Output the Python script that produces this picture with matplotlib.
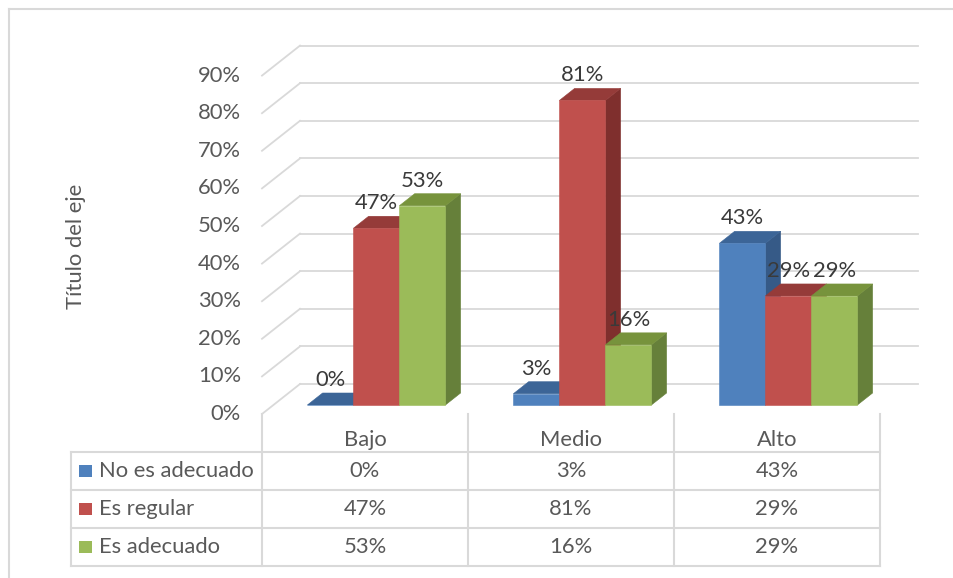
import matplotlib
matplotlib.use("Agg")
import matplotlib.pyplot as plt
from matplotlib.patches import Polygon, Rectangle
from matplotlib.lines import Line2D

# ---------------------------------------------------------------------------
# DATA
# ---------------------------------------------------------------------------
categories = ["Bajo", "Medio", "Alto"]
series_names = ["No es adecuado", "Es regular", "Es adecuado"]
no_es_adecuado = [0.00, 0.03, 0.43]
es_regular = [0.47, 0.81, 0.29]
es_adecuado = [0.53, 0.16, 0.29]
series_values = [no_es_adecuado, es_regular, es_adecuado]
y_ticks = [0.0, 0.1, 0.2, 0.3, 0.4, 0.5, 0.6, 0.7, 0.8, 0.9]
y_title = "Título del eje"

# colours: front / top / side of each 3D column
front_colors = ["#4F81BD", "#C0504D", "#9BBB59"]
top_colors = ["#3C6597", "#953B39", "#77933C"]
side_colors = ["#365A87", "#7F2F2D", "#66803A"]
GRID = "#D9D9D9"
TEXT = "#595959"
LABEL = "#3A3A3A"

plt.rcParams["font.family"] = ["Lato", "DejaVu Sans"]
FS = 15.8

# ---------------------------------------------------------------------------
# Layout: axes fill the figure; x in category units, y in value units
# (front plane of the walls), depth shifts things up and to the right.
# ---------------------------------------------------------------------------
W, H = 954, 578
PX_CAT = 206.0      # pixels per category
PX_UNIT = 376.0     # pixels per 100 %
X0, Y0 = 365.0, 414.0  # pixel position of (category 0, 0 %) on front plane
DEPTH_X = 38.0 / PX_CAT
DEPTH_Y = 30.0 / PX_UNIT
BAR_W = 46.0 / PX_CAT
D_FRONT, D_BACK = 0.30, 0.70
ROW_H = 38.0 / PX_UNIT
TABLE_LEFT = (71.0 - X0) / PX_CAT


def proj(x, v, d):
    return (x + d * DEPTH_X, v + d * DEPTH_Y)


fig = plt.figure(figsize=(W / 100, H / 100), dpi=100)
ax = fig.add_axes([0, 0, 1, 1])
ax.set_xlim(-X0 / PX_CAT, (W - X0) / PX_CAT)
ax.set_ylim((Y0 - H) / PX_UNIT, Y0 / PX_UNIT)
ax.axis("off")

# outer chart border (only top and left visible in the crop)
fig.add_artist(Line2D([9 / W, 9 / W], [0, 1 - 9 / H], color=GRID, lw=1.5))
fig.add_artist(Line2D([9 / W, 1], [1 - 9 / H, 1 - 9 / H], color=GRID, lw=1.5))

# walls: gridlines on back wall + left side wall
x_left = -0.5
x_right = len(categories) - 0.5
for t in y_ticks:
    bx0, by = proj(x_left, t, 1)
    bx1, _ = proj(x_right, t, 1)
    ax.plot([bx0, bx1], [by, by], color=GRID, lw=1.3, zorder=1)
    fx, fy = proj(x_left, t, 0)
    ax.plot([fx, bx0], [fy, by], color=GRID, lw=1.3, zorder=1)
    ax.text(x_left - 21 / PX_CAT, t, f"{t*100:.0f}%", ha="right", va="center",
            fontsize=FS, color=TEXT)

ax.text((76 - X0) / PX_CAT, (Y0 - 246) / PX_UNIT, y_title, rotation=90,
        ha="center", va="center", fontsize=FS, color=TEXT)

# 3D columns, drawn left to right so nearer faces cover neighbours' sides
z = 3
for i in range(len(categories)):
    for j, vals in enumerate(series_values):
        v = vals[i]
        x0 = i + (j - 1.5) * BAR_W
        x1 = x0 + BAR_W
        front = [proj(x0, 0, D_FRONT), proj(x1, 0, D_FRONT),
                 proj(x1, v, D_FRONT), proj(x0, v, D_FRONT)]
        top = [proj(x0, v, D_FRONT), proj(x1, v, D_FRONT),
               proj(x1, v, D_BACK), proj(x0, v, D_BACK)]
        side = [proj(x1, 0, D_FRONT), proj(x1, 0, D_BACK),
                proj(x1, v, D_BACK), proj(x1, v, D_FRONT)]
        ax.add_patch(Polygon(side, closed=True, fc=side_colors[j],
                             ec=side_colors[j], lw=0.4, zorder=z))
        ax.add_patch(Polygon(top, closed=True, fc=top_colors[j],
                             ec=top_colors[j], lw=0.4, zorder=z))
        ax.add_patch(Polygon(front, closed=True, fc=front_colors[j],
                             ec=front_colors[j], lw=0.4, zorder=z))
        z += 1
        lx, ly = proj((x0 + x1) / 2, v, D_FRONT)
        ax.text(lx, ly + 25 / PX_UNIT, f"{v*100:.0f}%", ha="center",
                va="center", fontsize=FS, color=LABEL, zorder=50)

# data table under the chart
n_rows = len(series_names)
bottom = -(n_rows + 1) * ROW_H
for k in range(len(categories) + 1):
    xk = k - 0.5
    ax.plot([xk, xk], [0, bottom], color=GRID, lw=1.5, zorder=1)
for r in range(1, n_rows + 2):
    yr = -r * ROW_H
    ax.plot([TABLE_LEFT, x_right], [yr, yr], color=GRID, lw=1.5, zorder=1)
ax.plot([TABLE_LEFT, TABLE_LEFT], [-ROW_H, bottom], color=GRID, lw=1.5, zorder=1)

for i, cat in enumerate(categories):
    ax.text(i, -0.68 * ROW_H, cat, ha="center", va="center", fontsize=FS,
            color=TEXT)

for r, (name, vals) in enumerate(zip(series_names, series_values)):
    yc = -(r + 1.5) * ROW_H
    ax.add_patch(Rectangle((TABLE_LEFT + 8 / PX_CAT, yc - 6 / PX_UNIT),
                           13 / PX_CAT, 12 / PX_UNIT, fc=front_colors[r],
                           ec="none"))
    ax.text(TABLE_LEFT + 28 / PX_CAT, yc, name, ha="left", va="center",
            fontsize=FS, color=TEXT)
    for i, v in enumerate(vals):
        ax.text(i, yc, f"{v*100:.0f}%", ha="center", va="center",
                fontsize=FS, color=TEXT)

fig.savefig("out.png", dpi=100)
